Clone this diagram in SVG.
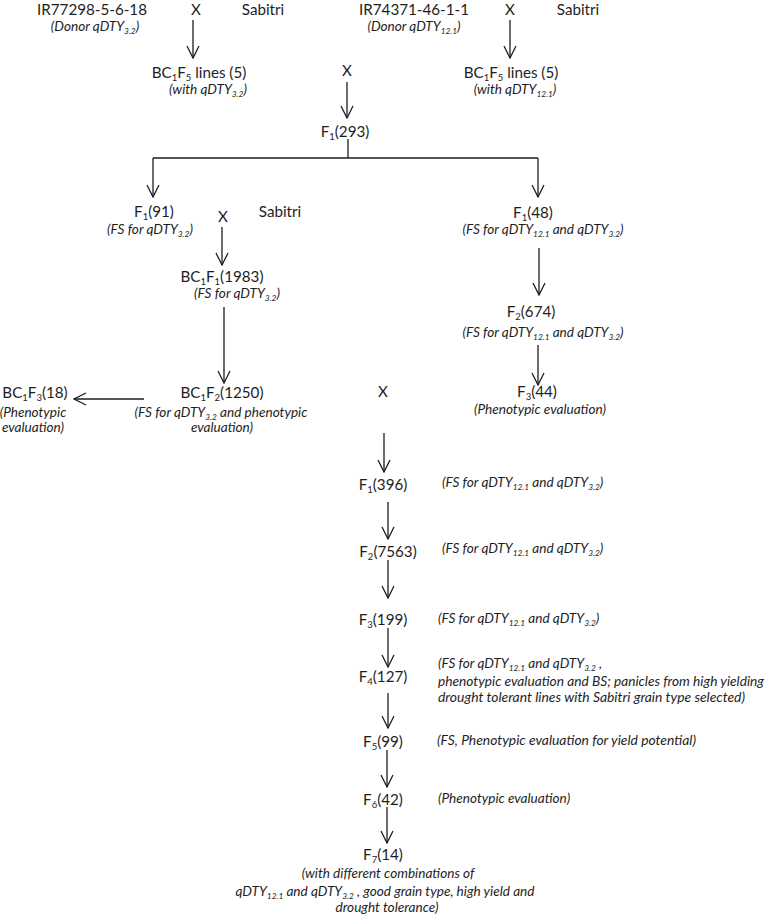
<svg xmlns="http://www.w3.org/2000/svg" width="766" height="917" viewBox="0 0 766 917">
<style>
text{font-family:Lato,"Liberation Sans",sans-serif;fill:#1e1e1e}
.m{font-size:15.2px}
.i{font-size:13.6px;font-style:italic}
.sm{font-size:9.5px}
.si{font-size:8.3px}
.c{text-anchor:middle}
.ln{stroke:#1e1e1e;stroke-width:1.3;fill:none}
.ar{stroke:#1e1e1e;stroke-width:1.3;fill:none;marker-end:url(#ah)}
</style>
<defs>
<marker id="ah" viewBox="0 0 14 14" refX="13" refY="7" markerWidth="14" markerHeight="14" markerUnits="userSpaceOnUse" orient="auto">
<path d="M1,1 L13,7 L1,13" fill="none" stroke="#1e1e1e" stroke-width="1.3"/>
</marker>
</defs>

<g id="connectors">
<line class="ar" x1="193" y1="20" x2="193" y2="58"/>
<line class="ar" x1="510" y1="20" x2="510" y2="58"/>
<line class="ar" x1="347" y1="82" x2="347" y2="118"/>
<polyline class="ln" points="348,139 348,158"/>
<line class="ln" x1="153" y1="158" x2="538" y2="158"/>
<line class="ar" x1="153" y1="158" x2="153" y2="197"/>
<line class="ar" x1="538" y1="158" x2="538" y2="197"/>
<line class="ar" x1="222" y1="227" x2="222" y2="265"/>
<line class="ar" x1="224" y1="307" x2="224" y2="383"/>
<line class="ar" x1="144" y1="399" x2="74" y2="399"/>
<line class="ar" x1="539" y1="248" x2="539" y2="295"/>
<line class="ar" x1="538" y1="345" x2="538" y2="385"/>
<line class="ar" x1="384" y1="433" x2="384" y2="472"/>
<line class="ar" x1="388" y1="502" x2="388" y2="539"/>
<line class="ar" x1="388" y1="560" x2="388" y2="598"/>
<line class="ar" x1="388" y1="628" x2="388" y2="667"/>
<line class="ar" x1="388" y1="693" x2="388" y2="728"/>
<line class="ar" x1="387" y1="750" x2="387" y2="787"/>
<line class="ar" x1="387" y1="807" x2="387" y2="843"/>
</g>

<g id="ir77298">
<text class="m c" x="92" y="15">IR77298-5-6-18</text>
<text class="i c" x="95" y="31">(Donor qDTY<tspan class="si" dy="3">3.2</tspan><tspan dy="-3">)</tspan></text>
</g>
<g id="x1"><text class="m c" x="196" y="15">X</text></g>
<g id="sabitri1"><text class="m c" x="263" y="15">Sabitri</text></g>

<g id="bc1f5a">
<text class="m c" x="199" y="78">BC<tspan class="sm" dy="3">1</tspan><tspan dy="-3">F</tspan><tspan class="sm" dy="3">5</tspan><tspan dy="-3"> lines (5)</tspan></text>
<text class="i c" x="208" y="94">(with qDTY<tspan class="si" dy="3">3.2</tspan><tspan dy="-3">)</tspan></text>
</g>

<g id="ir74371">
<text class="m c" x="414" y="15">IR74371-46-1-1</text>
<text class="i c" x="414" y="31">(Donor qDTY<tspan class="si" dy="3">12.1</tspan><tspan dy="-3">)</tspan></text>
</g>
<g id="x2"><text class="m c" x="510" y="15">X</text></g>
<g id="sabitri2"><text class="m c" x="578" y="15">Sabitri</text></g>

<g id="bc1f5b">
<text class="m c" x="511" y="78">BC<tspan class="sm" dy="3">1</tspan><tspan dy="-3">F</tspan><tspan class="sm" dy="3">5</tspan><tspan dy="-3"> lines (5)</tspan></text>
<text class="i c" x="515" y="94">(with qDTY<tspan class="si" dy="3">12.1</tspan><tspan dy="-3">)</tspan></text>
</g>

<g id="x3"><text class="m c" x="347" y="76">X</text></g>

<g id="f1_293"><text class="m c" x="345" y="137">F<tspan class="sm" dy="3">1</tspan><tspan dy="-3">(293)</tspan></text></g>

<g id="f1_91">
<text class="m c" x="154" y="217">F<tspan class="sm" dy="3">1</tspan><tspan dy="-3">(91)</tspan></text>
<text class="i c" x="150" y="234">(FS for qDTY<tspan class="si" dy="3">3.2</tspan><tspan dy="-3">)</tspan></text>
</g>
<g id="x4"><text class="m c" x="223" y="222">X</text></g>
<g id="sabitri3"><text class="m c" x="280" y="217">Sabitri</text></g>

<g id="bc1f1">
<text class="m c" x="222" y="282">BC<tspan class="sm" dy="3">1</tspan><tspan dy="-3">F</tspan><tspan class="sm" dy="3">1</tspan><tspan dy="-3">(1983)</tspan></text>
<text class="i c" x="237" y="298">(FS for qDTY<tspan class="si" dy="3">3.2</tspan><tspan dy="-3">)</tspan></text>
</g>

<g id="bc1f2">
<text class="m c" x="222" y="398">BC<tspan class="sm" dy="3">1</tspan><tspan dy="-3">F</tspan><tspan class="sm" dy="3">2</tspan><tspan dy="-3">(1250)</tspan></text>
<text class="i c" x="221" y="417">(FS for qDTY<tspan class="si" dy="3">3.2</tspan><tspan dy="-3"> and phenotypic</tspan></text>
<text class="i c" x="222" y="432">evaluation)</text>
</g>

<g id="bc1f3">
<text class="m c" x="35" y="398">BC<tspan class="sm" dy="3">1</tspan><tspan dy="-3">F</tspan><tspan class="sm" dy="3">3</tspan><tspan dy="-3">(18)</tspan></text>
<text class="i c" x="33" y="417">(Phenotypic</text>
<text class="i c" x="33" y="432">evaluation)</text>
</g>

<g id="f1_48">
<text class="m c" x="533" y="218">F<tspan class="sm" dy="3">1</tspan><tspan dy="-3">(48)</tspan></text>
<text class="i c" x="543" y="234">(FS  for qDTY<tspan class="si" dy="3">12.1</tspan><tspan dy="-3"> and qDTY</tspan><tspan class="si" dy="3">3.2</tspan><tspan dy="-3">)</tspan></text>
</g>

<g id="f2_674">
<text class="m c" x="531" y="317">F<tspan class="sm" dy="3">2</tspan><tspan dy="-3">(674)</tspan></text>
<text class="i c" x="543" y="337">(FS for qDTY<tspan class="si" dy="3">12.1</tspan><tspan dy="-3"> and qDTY</tspan><tspan class="si" dy="3">3.2</tspan><tspan dy="-3">)</tspan></text>
</g>

<g id="f3_44">
<text class="m c" x="537" y="397">F<tspan class="sm" dy="3">3</tspan><tspan dy="-3">(44)</tspan></text>
<text class="i c" x="540" y="414">(Phenotypic evaluation)</text>
</g>

<g id="x5"><text class="m c" x="383" y="397">X</text></g>

<g id="f1_396">
<text class="m c" x="383" y="490">F<tspan class="sm" dy="3">1</tspan><tspan dy="-3">(396)</tspan></text>
<text class="i" x="442" y="487">(FS for qDTY<tspan class="si" dy="3">12.1</tspan><tspan dy="-3"> and qDTY</tspan><tspan class="si" dy="3">3.2</tspan><tspan dy="-3">)</tspan></text>
</g>

<g id="f2_7563">
<text class="m c" x="388" y="557">F<tspan class="sm" dy="3">2</tspan><tspan dy="-3">(7563)</tspan></text>
<text class="i" x="442" y="553">(FS for qDTY<tspan class="si" dy="3">12.1</tspan><tspan dy="-3"> and qDTY</tspan><tspan class="si" dy="3">3.2</tspan><tspan dy="-3">)</tspan></text>
</g>

<g id="f3_199">
<text class="m c" x="383" y="625">F<tspan class="sm" dy="3">3</tspan><tspan dy="-3">(199)</tspan></text>
<text class="i" x="438" y="623">(FS for qDTY<tspan class="si" dy="3">12.1</tspan><tspan dy="-3"> and qDTY</tspan><tspan class="si" dy="3">3.2</tspan><tspan dy="-3">)</tspan></text>
</g>

<g id="f4_127">
<text class="m c" x="383" y="682">F<tspan class="sm" dy="3">4</tspan><tspan dy="-3">(127)</tspan></text>
<text class="i" x="438" y="668">(FS for qDTY<tspan class="si" dy="3">12.1</tspan><tspan dy="-3"> and qDTY</tspan><tspan class="si" dy="3">3.2</tspan><tspan dy="-3"> ,</tspan></text>
<text class="i" x="438" y="686" textLength="326" lengthAdjust="spacingAndGlyphs">phenotypic evaluation and BS; panicles from high yielding</text>
<text class="i" x="438" y="702" textLength="307" lengthAdjust="spacingAndGlyphs">drought tolerant lines with Sabitri grain type selected)</text>
</g>

<g id="f5_99">
<text class="m c" x="383" y="747">F<tspan class="sm" dy="3">5</tspan><tspan dy="-3">(99)</tspan></text>
<text class="i" x="437" y="745" textLength="259" lengthAdjust="spacingAndGlyphs">(FS, Phenotypic evaluation for yield potential)</text>
</g>

<g id="f6_42">
<text class="m c" x="383" y="805">F<tspan class="sm" dy="3">6</tspan><tspan dy="-3">(42)</tspan></text>
<text class="i" x="438" y="803">(Phenotypic evaluation)</text>
</g>

<g id="f7_14">
<text class="m c" x="383" y="860">F<tspan class="sm" dy="3">7</tspan><tspan dy="-3">(14)</tspan></text>
<text class="i c" x="388" y="878">(with different combinations of</text>
<text class="i c" x="385" y="896">qDTY<tspan class="si" dy="3">12.1</tspan><tspan dy="-3"> and qDTY</tspan><tspan class="si" dy="3">3.2</tspan><tspan dy="-3"> , good grain type, high yield and</tspan></text>
<text class="i c" x="387" y="912">drought tolerance)</text>
</g>
</svg>
